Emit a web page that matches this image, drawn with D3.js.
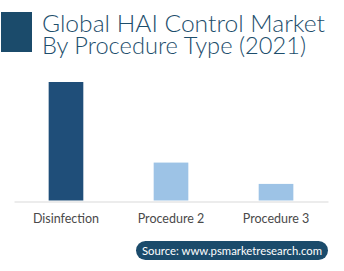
<!DOCTYPE html>
<html>
<head>
<meta charset="utf-8">
<script src="https://cdn.jsdelivr.net/npm/d3@7"></script>
<style>
  body { margin: 0; background: #fff; }
  svg { display: block; font-family: 'Lato', 'Open Sans', sans-serif; }
</style>
</head>
<body>
<div id="chart"></div>
<script>
let width = 344
let height = 271

// chart data
let categories = ['Disinfection', 'Procedure 2', 'Procedure 3']
let values = [100, 32, 14]
let barColors = ['#1f4e79', '#9dc3e6', '#9dc3e6']
let titleLines = ['Global HAI Control Market', 'By Procedure Type (2021)']
let sourceText = 'Source: www.psmarketresearch.com'

let margin = { top: 82, right: 16, bottom: 70, left: 14 }

let svg = d3.select('#chart').append('svg')
  .attr('width', width)
  .attr('height', height)

svg.append('rect').attr('width', width).attr('height', height).attr('fill', '#fff')

// title block
svg.append('rect')
  .attr('x', 1).attr('y', 12)
  .attr('width', 31).attr('height', 40)
  .attr('fill', '#1b4b6b')

let title = svg.append('text')
  .attr('fill', '#1d4e6c')
  .attr('font-size', 23)
  .attr('font-weight', 300)

title.selectAll('tspan')
  .data(titleLines)
  .enter().append('tspan')
  .attr('x', 42)
  .attr('y', (d, i) => 32 + i * 22)
  .attr('textLength', (d, i) => i == 0 ? 283 : 264)
  .attr('lengthAdjust', 'spacingAndGlyphs')
  .text(d => d)

let xScale = d3.scaleBand()
  .domain(categories)
  .range([margin.left, width - margin.right])
  .paddingInner(0.67)
  .paddingOuter(0.33)

let yScale = d3.scaleLinear()
  .domain([0, 100])
  .range([height - margin.bottom - 0.5, margin.top])

svg.selectAll('.bar')
  .data(values)
  .enter().append('rect')
  .attr('class', 'bar')
  .attr('x', (d, i) => xScale(categories[i]))
  .attr('y', d => yScale(d))
  .attr('width', xScale.bandwidth())
  .attr('height', d => yScale(0) - yScale(d))
  .attr('fill', (d, i) => barColors[i])

let axis = svg.append('g')
  .attr('transform', 'translate(0,' + (height - margin.bottom + 0.5) + ')')
  .call(d3.axisBottom(xScale).tickSize(0).tickPadding(13))

axis.select('.domain').attr('stroke', '#d9d9d9')
axis.selectAll('text')
  .attr('font-size', 12.5)
  .attr('fill', '#4a4a4a')
  .attr('font-family', "'Lato', sans-serif")

// source pill
svg.append('rect')
  .attr('x', 136).attr('y', 241)
  .attr('width', 192).attr('height', 19)
  .attr('rx', 9.5)
  .attr('fill', '#1b4b6b')

svg.append('text')
  .attr('x', 232).attr('y', 255)
  .attr('text-anchor', 'middle')
  .attr('fill', '#fff')
  .attr('font-size', 11.5)
  .attr('textLength', 180)
  .attr('lengthAdjust', 'spacingAndGlyphs')
  .text(sourceText)
</script>
</body>
</html>
